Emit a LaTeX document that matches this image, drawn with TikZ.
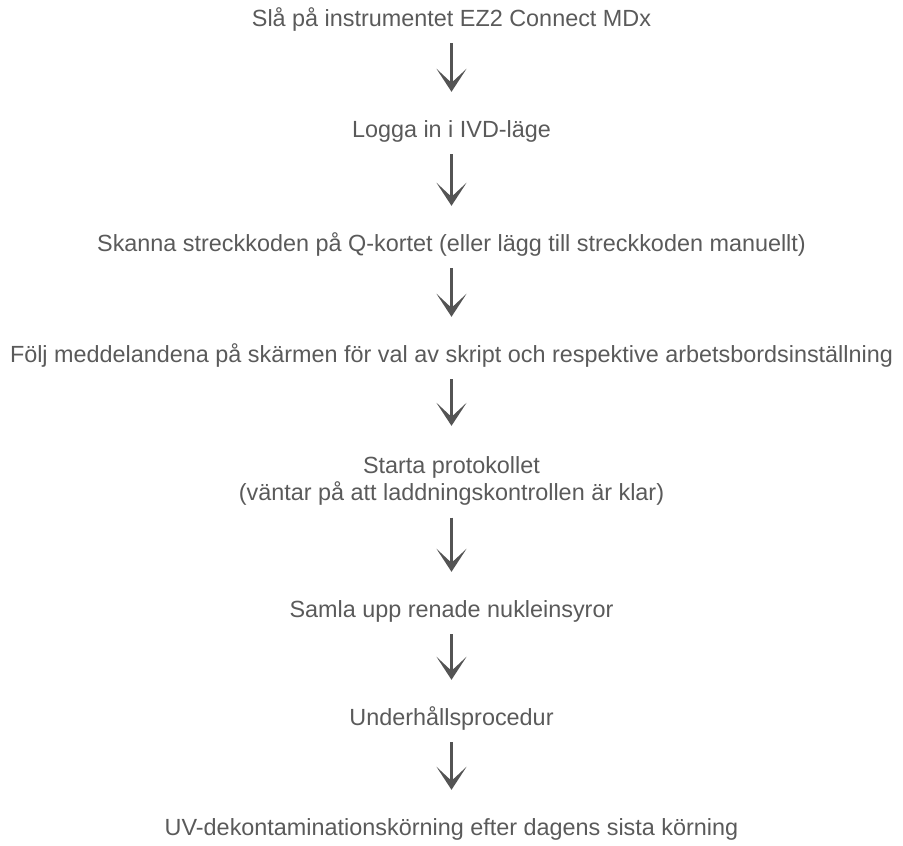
\documentclass[tikz,border=0pt]{standalone}
\usepackage{fontspec}
\setmainfont{Liberation Sans}
\usetikzlibrary{arrows.meta}
\definecolor{txtgray}{HTML}{5A5A5A}
\definecolor{arrgray}{HTML}{545454}
\newlength\reflinewidth
\AtBeginDocument{%
  \settowidth\reflinewidth{\fontsize{10}{12}\selectfont Följ meddelandena på skärmen för val av skript och respektive arbetsbordsinställning}%
  \pgfmathsetmacro\fsz{8830/\reflinewidth}%
  \global\let\fsz\fsz}
\begin{document}
\begin{tikzpicture}[x=1pt,y=1pt]
\tikzset{
  steptext/.style={font=\fontsize{\fsz}{27}\selectfont, text=txtgray, inner sep=0pt, anchor=base, align=center},
  oneline/.style={steptext, text height=15pt, text depth=4.5pt},
  arr/.style={draw=arrgray, line width=3.4pt, -{Stealth[length=23pt,width=30pt,inset=14pt]}, shorten <=12.5pt, shorten >=30pt}
}
\useasboundingbox (0,0) rectangle (903,-846);
\node[oneline] (t1) at (451.5,-26) {Slå på instrumentet EZ2 Connect MDx};
\node[oneline] (t2) at (451.5,-137) {Logga in i IVD-läge};
\node[oneline] (t3) at (451.5,-251) {Skanna streckkoden på Q-kortet (eller lägg till streckkoden manuellt)};
\node[oneline] (t4) at (451.5,-362) {Följ meddelandena på skärmen för val av skript och respektive arbetsbordsinställning};
\node[steptext] (t5) at (451.5,-500) {Starta protokollet\\(väntar på att laddningskontrollen är klar)};
\node[oneline] (t6) at (451.5,-617) {Samla upp renade nukleinsyror};
\node[oneline] (t7) at (451.5,-725) {Underhållsprocedur};
\node[oneline] (t8) at (451.5,-835) {UV-dekontaminationskörning efter dagens sista körning};
\foreach \a/\b in {t1/t2,t2/t3,t3/t4,t4/t5,t5/t6,t6/t7,t7/t8}{
  \draw[arr] (\a.south) -- (\b.north);
}
\end{tikzpicture}
\end{document}
